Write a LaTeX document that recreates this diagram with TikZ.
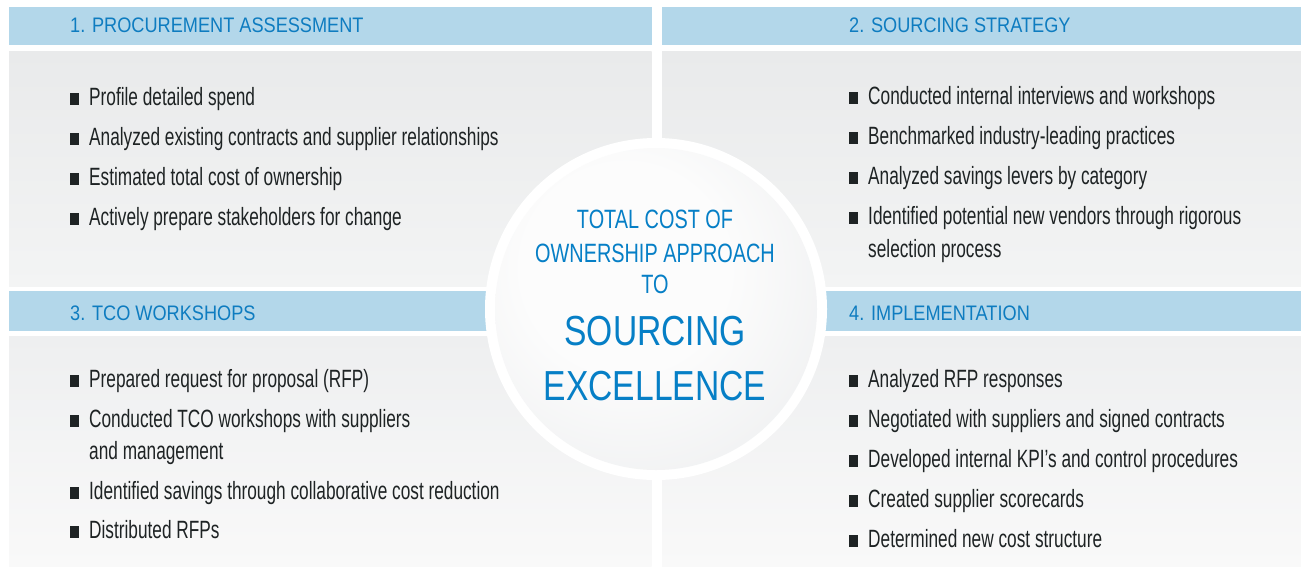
\documentclass[tikz,border=0pt]{standalone}
\usepackage{fontspec}
\setmainfont{Liberation Sans}
\newfontfamily\bodyf{Liberation Sans}[FakeStretch=0.69]
\newfontfamily\titlef{Liberation Sans}[FakeStretch=0.865]
\newfontfamily\circf{Liberation Sans}[FakeStretch=0.75]
\newfontfamily\bigf{Liberation Sans}[FakeStretch=0.80]
\definecolor{hdr}{RGB}{179,215,234}
\definecolor{titleblue}{RGB}{14,124,192}
\definecolor{circblue}{RGB}{6,127,198}
\definecolor{bodytxt}{RGB}{30,35,36}
\definecolor{gA}{RGB}{233,234,235}
\definecolor{gB}{RGB}{243,244,244}
\definecolor{gC}{RGB}{238,239,240}
\definecolor{gD}{RGB}{249,249,249}
\definecolor{cw}{RGB}{252,252,252}
\definecolor{cm}{RGB}{240,241,242}
\definecolor{ce}{RGB}{224,226,227}
\pgfdeclareradialshading{circsh}{\pgfpoint{-6bp}{8bp}}{color(0bp)=(cw); color(16bp)=(cw); color(34bp)=(cm); color(50bp)=(ce); color(80bp)=(ce)}
\newcommand{\sqb}{\makebox[19pt][l]{\color{bodytxt}\rule{8.5pt}{12.5pt}}}
\tikzset{
  ptitle/.style={anchor=base west, inner sep=0pt, font=\titlef\fontsize{21}{25}\selectfont, text=titleblue},
  pitem/.style={anchor=base west, inner sep=0pt, font=\bodyf\fontsize{25}{30}\selectfont, text=bodytxt},
  csmall/.style={anchor=base, inner sep=0pt, font=\circf\fontsize{26.5}{32}\selectfont, text=circblue},
  cbig/.style={anchor=base, inner sep=0pt, font=\bigf\fontsize{42}{48}\selectfont, text=circblue},
}
\begin{document}
\begin{tikzpicture}[x=1pt,y=-1pt]
\useasboundingbox (0,0) rectangle (1301,566);
\fill[white] (0,0) rectangle (1301,566);
% headers
\fill[hdr] (9,7) rectangle (651.5,45);
\fill[hdr] (662,7) rectangle (1301,45);
\fill[hdr] (9,291) rectangle (651.5,331);
\fill[hdr] (662,291) rectangle (1301,331);
% bodies
\shade[top color=gA, bottom color=gB] (9,51) rectangle (651.5,286);
\shade[top color=gA, bottom color=gB] (662,51) rectangle (1301,286);
\shade[top color=gC, bottom color=gD] (9,336) rectangle (651.5,566);
\shade[top color=gC, bottom color=gD] (662,336) rectangle (1301,566);
% titles
\node[ptitle] (t1) at (70,32) {1. PROCUREMENT ASSESSMENT};
\node[ptitle] (t2) at (849,32) {2. SOURCING STRATEGY};
\node[ptitle] (t3) at (70,320.5) {3. TCO WORKSHOPS};
\node[ptitle] (t4) at (849,320) {4. IMPLEMENTATION};
% panel 1
\node[pitem] (a1) at (70,105) {\sqb Profile detailed spend};
\node[pitem] (a2) at (70,145) {\sqb Analyzed existing contracts and supplier relationships};
\node[pitem] (a3) at (70,185) {\sqb Estimated total cost of ownership};
\node[pitem] (a4) at (70,225) {\sqb Actively prepare stakeholders for change};
% panel 2
\node[pitem] (b1) at (849,104) {\sqb Conducted internal interviews and workshops};
\node[pitem] (b2) at (849,144) {\sqb Benchmarked industry-leading practices};
\node[pitem] (b3) at (849,184) {\sqb Analyzed savings levers by category};
\node[pitem] (b4) at (849,224) {\sqb Identified potential new vendors through rigorous};
\node[pitem] (b4b) at (868,257) {selection process};
% panel 3
\node[pitem] (c1) at (70,387) {\sqb Prepared request for proposal (RFP)};
\node[pitem] (c2) at (70,427) {\sqb Conducted TCO workshops with suppliers};
\node[pitem] (c2b) at (89,459) {and management};
\node[pitem] (c3) at (70,499) {\sqb Identified savings through collaborative cost reduction};
\node[pitem] (c4) at (70,538) {\sqb Distributed RFPs};
% panel 4
\node[pitem] (d1) at (849,387) {\sqb Analyzed RFP responses};
\node[pitem] (d2) at (849,427) {\sqb Negotiated with suppliers and signed contracts};
\node[pitem] (d3) at (849,467) {\sqb Developed internal KPI’s and control procedures};
\node[pitem] (d4) at (849,507) {\sqb Created supplier scorecards};
\node[pitem] (d5) at (849,547) {\sqb Determined new cost structure};
% centre circle
\node[circle, fill=white, inner sep=0pt, minimum size=342pt] (ring) at (656,309) {};
\node[circle, shading=circsh, inner sep=0pt, minimum size=322pt] (core) at (ring.center) {};
\node[csmall] (m1) at (655,228) {TOTAL COST OF};
\node[csmall] (m2) at (655,262) {OWNERSHIP APPROACH};
\node[csmall] (m3) at (655,293) {TO};
\node[cbig] (m4) at (655,345) {SOURCING};
\node[cbig] (m5) at (655,400) {EXCELLENCE};
\end{tikzpicture}
\end{document}
